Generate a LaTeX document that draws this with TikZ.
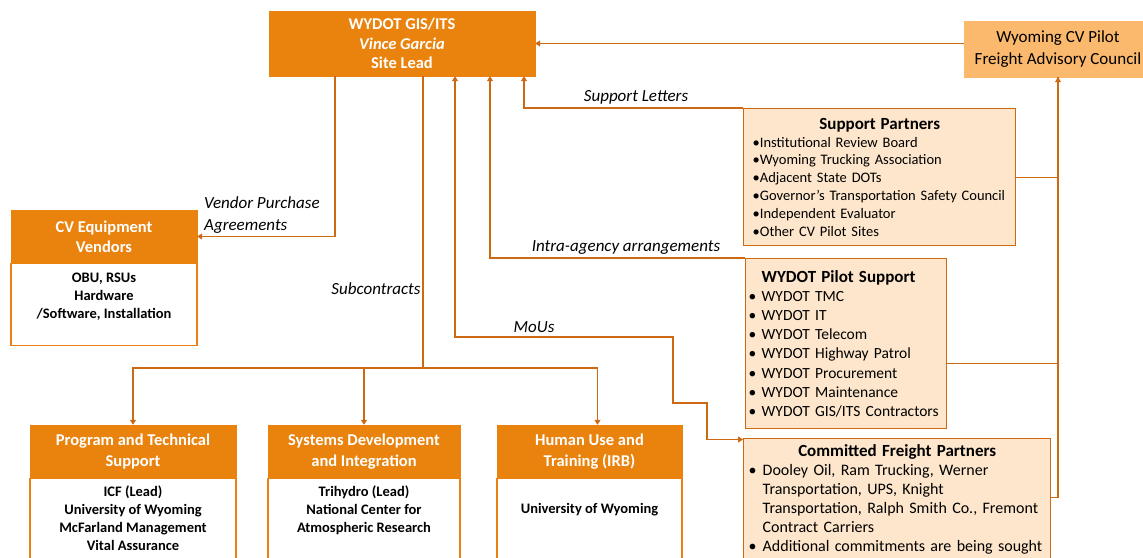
\documentclass[tikz,border=0pt]{standalone}
\usepackage{fontspec}
\setmainfont{Carlito}
\usetikzlibrary{arrows.meta, positioning, calc}

\definecolor{headorange}{RGB}{233,131,13}
\definecolor{lineorange}{RGB}{205,105,18}
\definecolor{councilfill}{RGB}{250,185,108}
\definecolor{peach}{RGB}{253,230,203}

\begin{document}
\begin{tikzpicture}[
    x=1pt, y=-1pt,
    head/.style={rectangle, draw=headorange, fill=headorange, text=white, align=center,
                 font=\bfseries\fontsize{16.5}{21}\selectfont, inner sep=2pt},
    body/.style={rectangle, draw=headorange, line width=1.2pt, fill=white, align=center,
                 font=\bfseries\fontsize{14.5}{18}\selectfont, inner sep=2pt},
    partbox/.style={rectangle, draw=lineorange, line width=1.4pt, fill=peach, align=left,
                    anchor=north west, inner ysep=2pt},
    arr/.style={-{Triangle[width=6pt,length=5pt]}, draw=lineorange, line width=1.3pt},
    arrboth/.style={{Triangle[width=6pt,length=5pt]}-{Triangle[width=6pt,length=5pt]}, draw=lineorange, line width=1.3pt},
    link/.style={draw=lineorange, line width=1.3pt},
    lab/.style={font=\itshape\fontsize{17}{22}\selectfont, inner sep=0pt}
]
\clip (0,0) rectangle (1143,557);

% lead and council
\node[head, minimum width=266, minimum height=65, font=\bfseries\fontsize{16.5}{19.5}\selectfont]
    (gis) at (402,43.5) {WYDOT GIS/ITS\\\textit{Vince Garcia}\\Site Lead};
\node[head, fill=councilfill, draw=councilfill, text=black, minimum width=188, minimum height=56,
      font=\fontsize{17}{22}\selectfont]
    (council) at (1058,49) {Wyoming CV Pilot\\Freight Advisory Council};

% vendors
\node[head, minimum width=186, minimum height=53, font=\bfseries\fontsize{16.5}{20}\selectfont]
    (vendHead) at (104,236.5) {CV Equipment\\Vendors};
\node[body, minimum width=186, minimum height=82, below=0pt of vendHead]
    (vendBody) {OBU, RSUs\\Hardware\\/Software, Installation\\~};

% subcontractors
\node[head, minimum width=206, minimum height=53] (progHead) at (133,451.5) {Program and Technical\\Support};
\node[body, minimum width=206, minimum height=114, below=0pt of progHead]
    (progBody) {ICF (Lead)\\University of Wyoming\\McFarland Management\\Vital Assurance\\~\\~};
\node[head, minimum width=192, minimum height=53] (sysHead) at (364,451.5) {Systems Development\\and Integration};
\node[body, minimum width=192, minimum height=114, below=0pt of sysHead]
    (sysBody) {Trihydro (Lead)\\National Center for\\Atmospheric Research\\~\\~\\~};
\node[head, minimum width=185, minimum height=53] (humHead) at (589.5,451.5) {Human Use and\\Training (IRB)};
\node[body, minimum width=185, minimum height=124, below=0pt of humHead]
    (humBody) {~\\University of Wyoming\\~\\~\\~\\~};

% partner boxes
\node[partbox, minimum width=272, minimum height=137, text width=254, inner xsep=9pt,
      font=\fontsize{14.5}{17.8}\selectfont] (support) at (743,108)
    {\hfill{\bfseries\fontsize{17}{20}\selectfont Support Partners}\hfill\null\\
     \textbullet Institutional Review Board\\
     \textbullet Wyoming Trucking Association\\
     \textbullet Adjacent State DOTs\\
     \textbullet Governor’s Transportation Safety Council\\
     \textbullet Independent Evaluator\\
     \textbullet Other CV Pilot Sites};
\node[partbox, minimum width=201, minimum height=170, text width=201, inner xsep=0pt,
      font=\fontsize{15.5}{19.2}\selectfont] (pilot) at (745,258)
    {\hspace*{16pt}{\bfseries\fontsize{17}{20}\selectfont WYDOT Pilot Support}\\
     \hspace*{3pt}\makebox[13pt][l]{\textbullet}WYDOT TMC\\
     \hspace*{3pt}\makebox[13pt][l]{\textbullet}WYDOT IT\\
     \hspace*{3pt}\makebox[13pt][l]{\textbullet}WYDOT Telecom\\
     \hspace*{3pt}\makebox[13pt][l]{\textbullet}WYDOT Highway Patrol\\
     \hspace*{3pt}\makebox[13pt][l]{\textbullet}WYDOT Procurement\\
     \hspace*{3pt}\makebox[13pt][l]{\textbullet}WYDOT Maintenance\\
     \hspace*{3pt}\makebox[13pt][l]{\textbullet}WYDOT GIS/ITS Contractors};
\node[partbox, minimum width=307, minimum height=122, text width=297, inner xsep=5pt,
      font=\fontsize{16}{19}\selectfont] (freight) at (743,438)
    {\hfill{\bfseries\fontsize{17}{20}\selectfont Committed Freight Partners}\hfill\null\\
     \makebox[14pt][l]{\textbullet}Dooley Oil, Ram Trucking, Werner\\
     \hspace*{14pt}Transportation, UPS, Knight\\
     \hspace*{14pt}Transportation, Ralph Smith Co., Fremont\\
     \hspace*{14pt}Contract Carriers\\
     \makebox[14pt][l]{\textbullet}Additional commitments are being sought};

% connectors
\draw[arr] (council.west |- gis.east) -- (gis.east);
\draw[arr] ([xshift=-67pt]gis.south) |- (vendHead.east);

\coordinate (subJoin) at (423,368);
\draw[link] (gis.south -| subJoin) -- (subJoin);
\draw[arr] (subJoin) -| (progHead);
\draw[arr] (subJoin) -| (sysHead);
\draw[arr] (subJoin) -| ([xshift=8pt]humHead.north);

\draw[arr] (support.north west) -| ([xshift=122pt]gis.south);
\draw[arr] (pilot.north west) -| ([xshift=88pt]gis.south);

\coordinate (mouA) at (673,337);
\coordinate (mouB) at (707,403);
\draw[arrboth] ([xshift=53pt]gis.south) |- (mouA) |- (mouB) |- ([yshift=-1.5pt]freight.north west);

\draw[link] (support.east) -| (council.south);
\draw[link] ([yshift=-20pt]pilot.east) -| (council.south);
\draw[arr] ([yshift=2pt]freight.east) -| (council.south);

% labels
\node[lab] (lettersLab) at (636,97) {Support Letters};
\node[lab] (intraLab) at (626,247) {Intra-agency arrangements};
\node[lab] (mouLab) at (534,327) {MoUs};
\node[lab] (subLab) at (376,289) {Subcontracts};
\node[lab, align=left, anchor=west] (vendLab) at (204,215) {Vendor Purchase\\Agreements};
\end{tikzpicture}
\end{document}
